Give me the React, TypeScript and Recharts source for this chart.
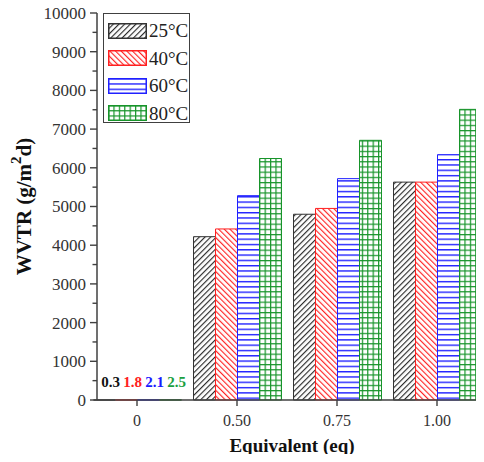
import React from 'react';
import { BarChart, Bar, XAxis, YAxis, LabelList } from 'recharts';

const categories = ['0', '0.50', '0.75', '1.00'];
const seriesNames = ['25°C', '40°C', '60°C', '80°C'];
const wvtr25 = [0.3, 4220, 4800, 5630];
const wvtr40 = [1.8, 4420, 4950, 5630];
const wvtr60 = [2.1, 5280, 5720, 6340];
const wvtr80 = [2.5, 6240, 6710, 7510];
const yTicks = [0, 500, 1000, 1500, 2000, 2500, 3000, 3500, 4000, 4500, 5000, 5500, 6000, 6500, 7000, 7500, 8000, 8500, 9000, 9500, 10000];

const data = categories.map((eq, i) => ({
  eq,
  t25: wvtr25[i],
  t40: wvtr40[i],
  t60: wvtr60[i],
  t80: wvtr80[i],
}));

const FONT = '"Liberation Serif", "Times New Roman", serif';
const AXIS = '#404040';

// stroke colour, pattern id, label colour
const styles = [
  { key: 't25', stroke: '#333', fill: 'url(#hatchBlack)', label: '#111' },
  { key: 't40', stroke: '#ff2020', fill: 'url(#hatchRed)', label: '#ff2020' },
  { key: 't60', stroke: '#2020ff', fill: 'url(#linesBlue)', label: '#1a1aff' },
  { key: 't80', stroke: '#17942a', fill: 'url(#gridGreen)', label: '#1aa040' },
];

const Patterns = () => (
  <defs>
    <pattern id="hatchBlack" width="4" height="4" patternUnits="userSpaceOnUse" patternTransform="rotate(45)">
      <rect width="4" height="4" fill="#fff" />
      <line x1="0.6" y1="0" x2="0.6" y2="4" stroke="#222" strokeWidth="1.1" />
    </pattern>
    <pattern id="hatchRed" width="4" height="4" patternUnits="userSpaceOnUse" patternTransform="rotate(-45)">
      <rect width="4" height="4" fill="#fff" />
      <line x1="0.6" y1="0" x2="0.6" y2="4" stroke="#ff1a1a" strokeWidth="1.1" />
    </pattern>
    <pattern id="linesBlue" width="5" height="5.3" patternUnits="userSpaceOnUse">
      <rect width="5" height="5.3" fill="#fff" />
      <line x1="0" y1="0.7" x2="5" y2="0.7" stroke="#2020ff" strokeWidth="1.4" />
    </pattern>
    <pattern id="gridGreen" width="5.4" height="5.2" patternUnits="userSpaceOnUse">
      <rect width="5.4" height="5.2" fill="#fff" />
      <line x1="0" y1="0.6" x2="5.4" y2="0.6" stroke="#17942a" strokeWidth="1.2" />
      <line x1="0.6" y1="0" x2="0.6" y2="5.2" stroke="#17942a" strokeWidth="1.2" />
    </pattern>
  </defs>
);

const YTick = (props: any) => {
  const { x, y, payload } = props;
  const major = payload.value % 1000 === 0;
  return (
    <g>
      <line x1={x - (major ? 7 : 4.5)} x2={x} y1={y} y2={y} stroke={AXIS} strokeWidth={1.4} />
      {major && (
        <text x={x - 11} y={y} dy="0.35em" textAnchor="end" fontFamily={FONT} fontSize={17} fill="#333">
          {payload.value}
        </text>
      )}
    </g>
  );
};

const YTitle = (props: any) => {
  const vb = props.viewBox || { x: 0, y: 0, width: 0, height: 0 };
  const cx = vb.x + 24;
  const cy = vb.y + vb.height / 2;
  return (
    <text
      x={cx}
      y={cy}
      transform={`rotate(-90 ${cx} ${cy})`}
      textAnchor="middle"
      dominantBaseline="central"
      fontFamily={FONT}
      fontSize={21}
      fontWeight="bold"
      fill="#111"
    >
      <tspan>WVTR (g/m</tspan>
      <tspan dy={-8} fontSize={15}>2</tspan>
      <tspan dy={8}>d)</tspan>
    </text>
  );
};

const XTitle = (props: any) => {
  const vb = props.viewBox || { x: 0, y: 0, width: 0, height: 0 };
  return (
    <text
      x={vb.x + vb.width / 2}
      y={vb.y + 52}
      textAnchor="middle"
      fontFamily={FONT}
      fontSize={19}
      fontWeight="bold"
      fill="#111"
    >
      Equivalent (eq)
    </text>
  );
};

const smallLabel = (color: string) => (props: any) => {
  const { x, y, width, value } = props;
  if (Number(value) >= 100) return null;
  return (
    <text x={x + width / 2 + 6} y={y - 13} textAnchor="middle" fontFamily={FONT} fontSize={15} fontWeight="bold" fill={color}>
      {value}
    </text>
  );
};

const LegendBox = () => (
  <div
    style={{
      position: 'absolute',
      left: 103,
      top: 13,
      width: 87,
      height: 110,
      border: `1.5px solid ${AXIS}`,
      background: '#fff',
      boxSizing: 'border-box',
      paddingTop: 3,
      fontFamily: FONT,
    }}
  >
    {seriesNames.map((name, i) => (
      <div key={name} style={{ display: 'flex', alignItems: 'center', height: 27.5, paddingLeft: 4 }}>
        <svg width={39} height={16} style={{ display: 'block' }}>
          <rect x={0.75} y={0.75} width={37.5} height={14.5} fill={styles[i].fill} stroke={styles[i].stroke} strokeWidth={1.5} />
        </svg>
        <span style={{ fontSize: 19, color: '#222', marginLeft: 2, lineHeight: '19px' }}>{name}</span>
      </div>
    ))}
  </div>
);

export default function App() {
  return (
    <div style={{ position: 'relative', margin: -8, width: 484, height: 462, overflow: 'hidden', background: '#fff' }}>
      <BarChart
        width={500}
        height={462}
        data={data}
        margin={{ top: 13, right: 13, left: 0, bottom: 0 }}
        barCategoryGap={6.5}
        barGap={0}
      >
        <Patterns />
        <XAxis
          dataKey="eq"
          height={62}
          padding={{ left: -10, right: 0 }}
          tickSize={6}
          tickMargin={9}
          axisLine={{ stroke: AXIS, strokeWidth: 1.5 }}
          tickLine={{ stroke: AXIS, strokeWidth: 1.4 }}
          tick={{ fontFamily: FONT, fontSize: 16, fill: '#333' }}
          label={<XTitle />}
        />
        <XAxis
          xAxisId="top"
          dataKey="eq"
          orientation="top"
          height={0}
          tick={false}
          tickLine={false}
          axisLine={{ stroke: AXIS, strokeWidth: 1.5 }}
        />
        <YAxis
          width={97}
          domain={[0, 10000]}
          ticks={yTicks}
          interval={0}
          tickSize={0}
          tickMargin={0}
          tickLine={false}
          axisLine={{ stroke: AXIS, strokeWidth: 1.5 }}
          tick={<YTick />}
          label={<YTitle />}
        />
        {styles.map((s, i) => (
          <Bar key={s.key} dataKey={s.key} name={seriesNames[i]} fill={s.fill} stroke={s.stroke} strokeWidth={1} isAnimationActive={false}>
            <LabelList dataKey={s.key} content={smallLabel(s.label)} />
          </Bar>
        ))}
      </BarChart>
      <LegendBox />
    </div>
  );
}
